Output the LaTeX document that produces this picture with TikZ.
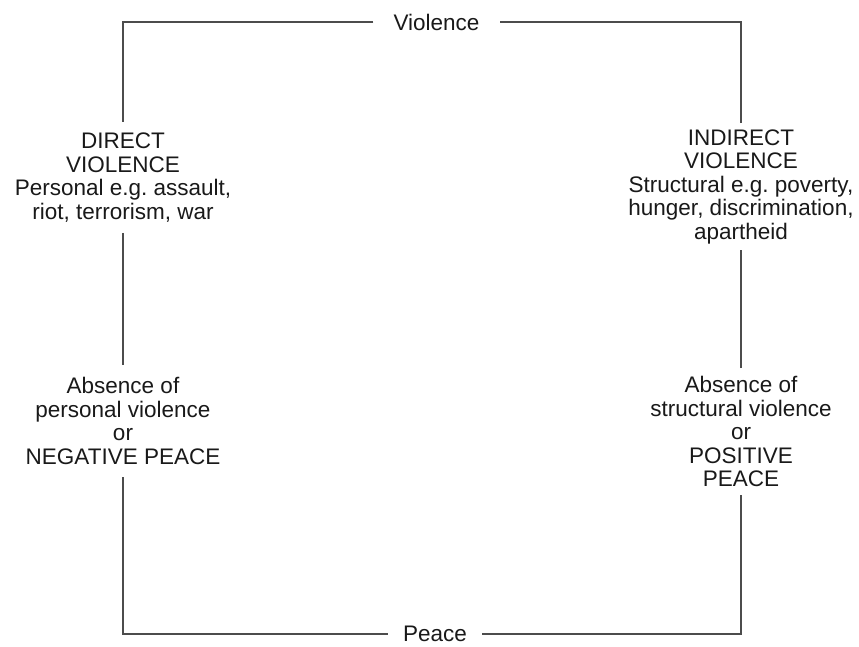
\documentclass[tikz,border=0pt]{standalone}
\usepackage{fontspec}
\setmainfont{Liberation Sans}
\usetikzlibrary{calc}

\begin{document}
\begin{tikzpicture}[x=1pt, y=-1pt,
    boxtext/.style={align=center, text=textgray, inner xsep=4pt, inner ysep=9pt,
        font=\fontsize{22.5}{23.5}\selectfont},
    frame/.style={draw=framegray, line width=2.8pt, line join=miter}]

   %my colors
\definecolor{framegray}{rgb}{0.3, 0.3, 0.3}
\definecolor{textgray}{rgb}{0.1, 0.1, 0.1}

    % Sides of the frame
    \def\L{123} % left side
    \def\R{741} % right side
    \def\T{22}  % top
    \def\B{634} % bottom

    \useasboundingbox (0,0) rectangle (859,646);

    % Top and bottom labels
    \node[boxtext, inner xsep=20pt] (violence) at (436.5,\T) {Violence};
    \node[boxtext, inner xsep=15pt] (peace) at (435,\B) {Peace};

    % Left side: personal violence
    \node[boxtext, inner ysep=10.5pt] (direct) at (\L,177.5)
        {DIRECT\\VIOLENCE\\Personal e.g.\ assault,\\riot, terrorism, war};
    \node[boxtext, inner ysep=12.5pt] (negpeace) at (\L,421)
        {Absence of\\personal violence\\or\\NEGATIVE PEACE};

    % Right side: structural violence
    \node[boxtext, inner ysep=6pt] (indirect) at (\R,186.5)
        {INDIRECT\\VIOLENCE\\Structural e.g.\ poverty,\\hunger, discrimination,\\apartheid};
    \node[boxtext, inner ysep=8pt] (pospeace) at (\R,431.5)
        {Absence of\\structural violence\\or\\POSITIVE\\PEACE};

    % The frame, broken by the labels
    \draw[frame] (violence) -| (direct);
    \draw[frame] (direct) -- (negpeace);
    \draw[frame] (negpeace) |- (peace);
    \draw[frame] (peace) -| (pospeace);
    \draw[frame] (pospeace) -- (indirect);
    \draw[frame] (indirect) |- (violence);

\end{tikzpicture}
\end{document}
